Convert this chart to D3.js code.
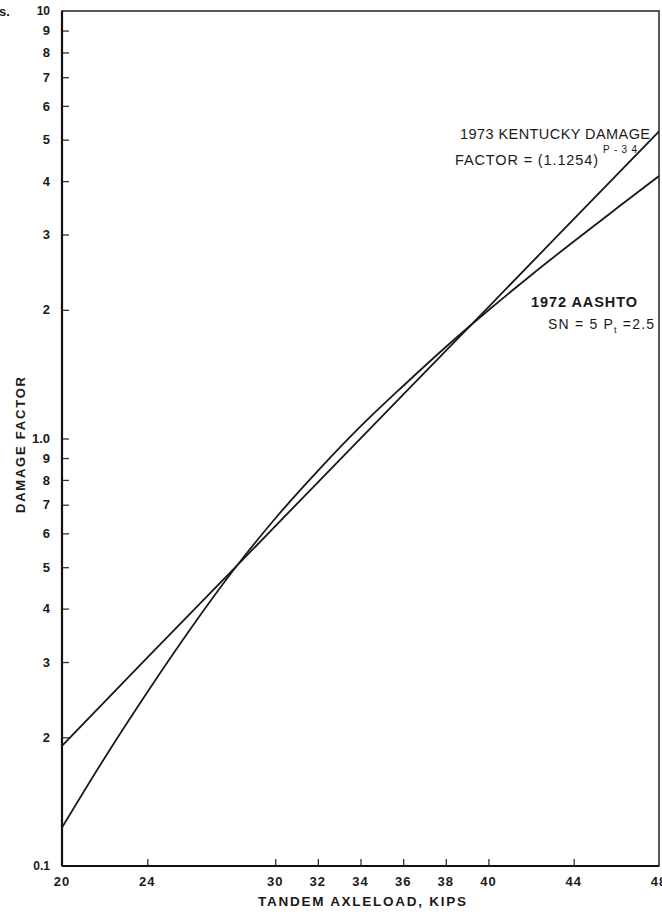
<!DOCTYPE html>
<html>
<head>
<meta charset="utf-8">
<script src="https://cdn.jsdelivr.net/npm/d3@7"></script>
<style>
  body { margin: 0; background: #fff; }
  text { font-family: 'Liberation Sans', Arial, sans-serif; fill: #1a1a1a; }
</style>
</head>
<body>
<div id="graph"></div>
<script>
/* global d3 */
var w = 662;
var h = 915;

// tandem axleload, kips
var kentuckyLoads = [20, 24, 28, 32, 36, 40, 44, 48];
var kentuckyFactors = [0.191, 0.307, 0.492, 0.79, 1.267, 2.03, 3.26, 5.23];

var aashtoLoads = [20, 22, 24, 26, 28, 30, 32, 34, 36, 38, 40, 42, 44, 46, 48];
var aashtoFactors = [0.123, 0.179, 0.255, 0.357, 0.489, 0.65, 0.84, 1.067, 1.327, 1.637, 1.995, 2.41, 2.89, 3.45, 4.11];

var xTicks = [20, 24, 30, 32, 34, 36, 38, 40, 44, 48];
var yTicks = [0.2, 0.3, 0.4, 0.5, 0.6, 0.7, 0.8, 0.9, 1, 2, 3, 4, 5, 6, 7, 8, 9];
var yLabels = { 0.1: '0.1', 1: '1.0', 10: '10' };

var plotL = 62, plotR = 659, plotT = 11, plotB = 866;

var x = d3.scaleLinear().domain([20, 48]).range([plotL, plotR]);
var y = d3.scaleLog().domain([0.1, 10]).range([plotB, plotT]);

var vis = d3.select('#graph')
  .append('svg')
  .attr('width', w)
  .attr('height', h);

// frame
vis.append('rect')
  .attr('x', plotL)
  .attr('y', plotT)
  .attr('width', plotR - plotL)
  .attr('height', plotB - plotT)
  .style('fill', 'none')
  .style('stroke', '#222')
  .style('stroke-width', 1.5);

// y axis, ticks pointing inward
var yAxis = d3.axisRight(y)
  .tickValues(yTicks)
  .tickSize(7)
  .tickFormat('');
vis.append('g')
  .attr('transform', 'translate(' + plotL + ',0)')
  .call(yAxis)
  .call(function (g) {
    g.select('.domain').remove();
    g.selectAll('line').style('stroke', '#333').style('stroke-width', 1.3);
  });

vis.append('line')
  .attr('x1', plotL).attr('x2', plotL)
  .attr('y1', plotT).attr('y2', plotB)
  .style('stroke', '#111')
  .style('stroke-width', 2.2);

vis.selectAll('text.ylab')
  .data([0.1].concat(yTicks).concat([10]))
  .enter()
  .append('text')
  .attr('class', 'ylab')
  .attr('x', 50)
  .attr('y', function (d) { return y(d); })
  .attr('dy', '0.36em')
  .attr('text-anchor', 'end')
  .style('font-size', function (d) { return d === 10 || d === 0.1 ? '12px' : '13px'; })
  .style('font-weight', 'bold')
  .text(function (d) {
    if (yLabels[d]) return yLabels[d];
    return String(Math.round(d < 1 ? d * 10 : d));
  });

// x axis, ticks pointing up
var xAxis = d3.axisTop(x)
  .tickValues(xTicks.filter(function (d) { return d !== 20 && d !== 48; }))
  .tickSize(7)
  .tickFormat('');
vis.append('g')
  .attr('transform', 'translate(0,' + plotB + ')')
  .call(xAxis)
  .call(function (g) {
    g.select('.domain').remove();
    g.selectAll('line').style('stroke', '#333').style('stroke-width', 1.3);
  });

vis.append('line')
  .attr('x1', plotL).attr('x2', plotR)
  .attr('y1', plotB).attr('y2', plotB)
  .style('stroke', '#111')
  .style('stroke-width', 2.2);

vis.selectAll('text.xlab')
  .data(xTicks)
  .enter()
  .append('text')
  .attr('class', 'xlab')
  .attr('x', function (d) { return x(d); })
  .attr('y', 886)
  .attr('text-anchor', 'middle')
  .style('font-size', '13px')
  .style('font-weight', 'bold')
  .style('letter-spacing', '1px')
  .text(function (d) { return d; });

// axis titles
vis.append('text')
  .attr('x', 362)
  .attr('y', 906)
  .attr('text-anchor', 'middle')
  .style('font-size', '13.5px')
  .style('font-weight', 'bold')
  .attr('textLength', 208)
  .text('TANDEM AXLELOAD, KIPS');

vis.append('text')
  .attr('transform', 'translate(25,445) rotate(-90)')
  .attr('text-anchor', 'middle')
  .style('font-size', '13px')
  .style('font-weight', 'bold')
  .attr('textLength', 136)
  .text('DAMAGE FACTOR');

vis.append('text')
  .attr('x', -1)
  .attr('y', 16)
  .style('font-size', '13px')
  .style('font-weight', 'bold')
  .text('s.');

// curves
vis.append('clipPath').attr('id', 'plot')
  .append('rect')
  .attr('x', plotL).attr('y', plotT)
  .attr('width', plotR - plotL).attr('height', plotB - plotT);

var kentuckyLine = d3.line()
  .x(function (d, i) { return x(kentuckyLoads[i]); })
  .y(function (d) { return y(d); });

var aashtoLine = d3.line()
  .curve(d3.curveMonotoneX)
  .x(function (d, i) { return x(aashtoLoads[i]); })
  .y(function (d) { return y(d); });

vis.append('path')
  .attr('d', kentuckyLine(kentuckyFactors))
  .attr('clip-path', 'url(#plot)')
  .style('fill', 'none')
  .style('stroke', '#1a1a1a')
  .style('stroke-width', 1.8);

vis.append('path')
  .attr('d', aashtoLine(aashtoFactors))
  .attr('clip-path', 'url(#plot)')
  .style('fill', 'none')
  .style('stroke', '#1a1a1a')
  .style('stroke-width', 1.8);

// annotations
vis.append('text')
  .attr('x', 460)
  .attr('y', 139)
  .attr('textLength', 190)
  .style('font-size', '14.5px')
  .text('1973 KENTUCKY DAMAGE');

vis.append('text')
  .attr('x', 455)
  .attr('y', 165)
  .attr('textLength', 143)
  .style('font-size', '14.5px')
  .text('FACTOR = (1.1254)');

vis.append('text')
  .attr('x', 603)
  .attr('y', 153)
  .attr('textLength', 34)
  .style('font-size', '10px')
  .text('P-34');

vis.append('text')
  .attr('x', 531)
  .attr('y', 307)
  .attr('textLength', 106)
  .style('font-size', '14.5px')
  .style('font-weight', 'bold')
  .text('1972 AASHTO');

var sn = vis.append('text')
  .attr('x', 548)
  .attr('y', 329)
  .style('font-size', '14px')
  .style('letter-spacing', '1.2px')
  .text('SN = 5  P');
sn.append('tspan')
  .attr('dy', 4)
  .style('font-size', '9px')
  .text('t');
sn.append('tspan')
  .attr('dy', -4)
  .text(' =2.5');
</script>
</body>
</html>
